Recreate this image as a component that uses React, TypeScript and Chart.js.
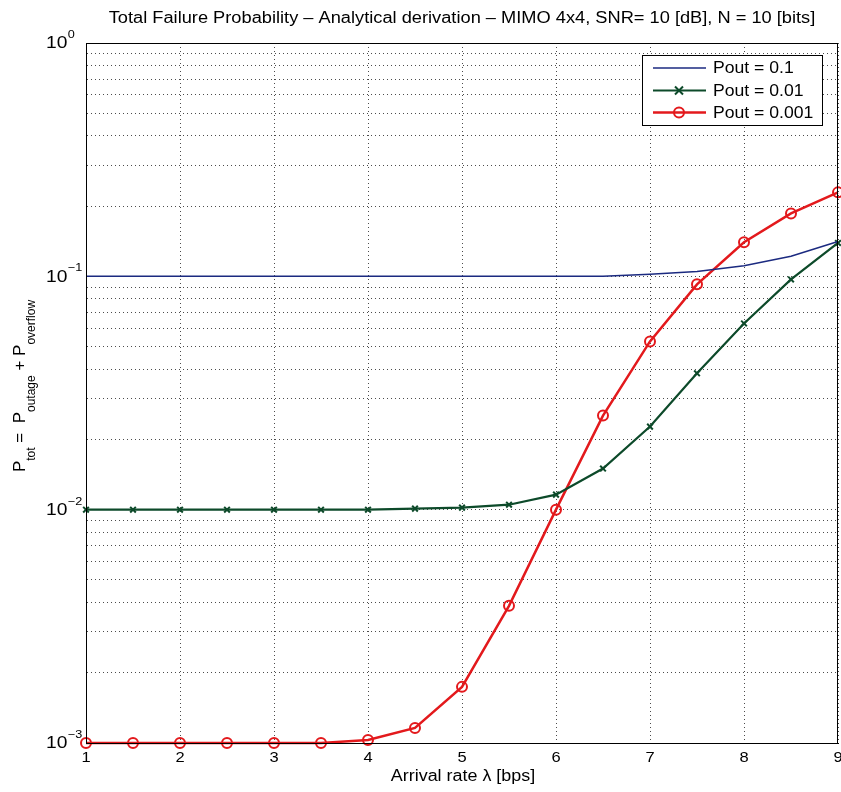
import React, { useEffect, useRef } from "react";
import { Chart, registerables } from "chart.js";

Chart.register(...registerables);

const arrivalRates = [1, 1.5, 2, 2.5, 3, 3.5, 4, 4.5, 5, 5.5, 6, 6.5, 7, 7.5, 8, 8.5, 9];
const pout01 = [0.1, 0.1, 0.1, 0.1, 0.1, 0.1, 0.1, 0.1, 0.1, 0.1, 0.1, 0.1, 0.102, 0.105, 0.111, 0.122, 0.141];
const pout001 = [0.01, 0.01, 0.01, 0.01, 0.01, 0.01, 0.01, 0.0101, 0.0102, 0.0105, 0.0116, 0.015, 0.0227, 0.0384, 0.0628, 0.097, 0.139];
const pout0001 = [0.001, 0.001, 0.001, 0.001, 0.001, 0.001, 0.00103, 0.00116, 0.00174, 0.00387, 0.01, 0.0253, 0.0526, 0.0924, 0.14, 0.186, 0.229];
const seriesNames = ["Pout = 0.1", "Pout = 0.01", "Pout = 0.001"];
const xTicks = [1, 2, 3, 4, 5, 6, 7, 8, 9];
const yExponents = [0, -1, -2, -3];

const titleText = "Total Failure Probability \u2013 Analytical derivation \u2013 MIMO 4x4, SNR= 10 [dB], N = 10 [bits]";
const xTitle = "Arrival rate \u03bb [bps]";

const BLUE = "#1b2a80";
const GREEN = "#0d4a2a";
const RED = "#e3191c";
const FONT = "'Liberation Sans', Arial, sans-serif";

function drawText(ctx: any, text: string, x: number, y: number, size: number, align: string, sx: number) {
  ctx.save();
  ctx.font = `${size}px ${FONT}`;
  ctx.textBaseline = "middle";
  const w = ctx.measureText(text).width * sx;
  let left = x;
  if (align === "center") left = x - w / 2;
  else if (align === "right") left = x - w;
  ctx.translate(left, y);
  ctx.scale(sx, 1);
  ctx.textAlign = "left";
  ctx.fillText(text, 0, 0);
  ctx.restore();
  return w;
}

const decorPlugin = {
  id: "decor",
  afterDraw(chart: any) {
    const { ctx, chartArea } = chart;
    const { left, right, top, bottom } = chartArea;
    const yScale = chart.scales.y;
    const xScale = chart.scales.x;
    ctx.save();
    ctx.strokeStyle = "#000";
    ctx.lineWidth = 1;
    ctx.setLineDash([]);
    ctx.strokeRect(left + 0.5, top + 0.5, right - left - 1, bottom - top);

    ctx.fillStyle = "#000";
    drawText(ctx, titleText, (left + right) / 2, 19, 16, "center", 1.14);
    drawText(ctx, xTitle, (left + right) / 2 + 1, 777, 16, "center", 1.12);

    for (const v of xTicks) {
      drawText(ctx, String(v), xScale.getPixelForValue(v), 758, 15, "center", 1.1);
    }

    for (const e of yExponents) {
      const y = yScale.getPixelForValue(Math.pow(10, e));
      const exp = e === 0 ? "0" : "\u2212" + String(-e);
      const w = drawText(ctx, "10", 46, y + 1, 16, "left", 1.2);
      drawText(ctx, exp, 46 + w + 0.5, y - 8, 11, "left", 1.15);
    }

    ctx.save();
    ctx.translate(25, 0);
    ctx.rotate(-Math.PI / 2);
    const parts: [string, boolean][] = [
      ["P", false], ["tot", true], [" =  P", false], ["outage", true], [" + P", false], ["overflow", true],
    ];
    const big = `17px ${FONT}`;
    const small = `12px ${FONT}`;
    let total = 0;
    for (const [t, sub] of parts) {
      ctx.font = sub ? small : big;
      total += ctx.measureText(t).width;
    }
    let cx = -386 - total / 2;
    ctx.textAlign = "left";
    ctx.textBaseline = "alphabetic";
    for (const [t, sub] of parts) {
      ctx.font = sub ? small : big;
      ctx.fillText(t, cx, sub ? 10 : 0);
      cx += ctx.measureText(t).width;
    }
    ctx.restore();

    const lx = 642, ly = 55, lw = 180, lh = 70;
    ctx.fillStyle = "#fff";
    ctx.fillRect(lx, ly, lw, lh);
    ctx.strokeStyle = "#000";
    ctx.lineWidth = 1;
    ctx.strokeRect(lx + 0.5, ly + 0.5, lw, lh);
    const rows = [68, 90.5, 112.5];
    const colors = [BLUE, GREEN, RED];
    const widths = [1.5, 2.2, 2.5];
    rows.forEach((ry, i) => {
      ctx.strokeStyle = colors[i];
      ctx.lineWidth = widths[i];
      ctx.beginPath();
      ctx.moveTo(653, ry);
      ctx.lineTo(706, ry);
      ctx.stroke();
      if (i === 1) {
        ctx.lineWidth = 2;
        ctx.beginPath();
        ctx.moveTo(675, ry - 4); ctx.lineTo(683, ry + 4);
        ctx.moveTo(675, ry + 4); ctx.lineTo(683, ry - 4);
        ctx.stroke();
      }
      if (i === 2) {
        ctx.lineWidth = 2;
        ctx.beginPath();
        ctx.arc(679, ry, 5, 0, Math.PI * 2);
        ctx.stroke();
      }
      ctx.fillStyle = "#000";
      drawText(ctx, seriesNames[i], 713, ry + 1, 16, "left", 1.1);
    });
    ctx.restore();
  },
};

export default function App() {
  const ref = useRef<HTMLCanvasElement | null>(null);
  useEffect(() => {
    document.body.style.margin = "0";
    const canvas = ref.current!;
    const chart = new Chart(canvas, {
      type: "line",
      data: {
        labels: arrivalRates,
        datasets: [
          {
            label: seriesNames[0],
            data: arrivalRates.map((x, i) => ({ x, y: pout01[i] })),
            borderColor: BLUE,
            borderWidth: 1.5,
            pointRadius: 0,
            fill: false,
            clip: false,
          },
          {
            label: seriesNames[1],
            data: arrivalRates.map((x, i) => ({ x, y: pout001[i] })),
            borderColor: GREEN,
            backgroundColor: GREEN,
            borderWidth: 2.2,
            pointStyle: "crossRot",
            pointRadius: 4,
            pointBorderWidth: 2,
            fill: false,
            clip: false,
          },
          {
            label: seriesNames[2],
            data: arrivalRates.map((x, i) => ({ x, y: pout0001[i] })),
            borderColor: RED,
            backgroundColor: "rgba(255,255,255,0)",
            borderWidth: 2.5,
            pointStyle: "circle",
            pointRadius: 5,
            pointBorderWidth: 2,
            fill: false,
            clip: false,
          },
        ],
      },
      options: {
        animation: false,
        responsive: false,
        maintainAspectRatio: false,
        layout: { autoPadding: false, padding: { top: 43, right: 3, left: 0, bottom: 0 } },
        plugins: { legend: { display: false }, title: { display: false }, tooltip: { enabled: false } },
        scales: {
          x: {
            type: "linear",
            min: 1,
            max: 9,
            afterBuildTicks: (s: any) => { s.ticks = xTicks.map((v) => ({ value: v })); },
            afterFit: (s: any) => { s.height = 49; },
            ticks: { display: false, autoSkip: false, maxRotation: 0 },
            grid: { color: "rgba(0,0,0,0.7)", lineWidth: 1, drawTicks: false },
            border: { display: true, color: "#000", dash: [1, 3] },
          },
          y: {
            type: "logarithmic",
            min: 0.001,
            max: 1,
            afterBuildTicks: (s: any) => {
              const t: any[] = [];
              for (let e = -3; e < 0; e++) {
                for (let m = 1; m <= 9; m++) t.push({ value: m * Math.pow(10, e) });
              }
              t.push({ value: 1 });
              s.ticks = t;
            },
            afterFit: (s: any) => { s.width = 86; },
            ticks: { display: false, autoSkip: false },
            grid: { color: "rgba(0,0,0,0.7)", lineWidth: 1, drawTicks: false },
            border: { display: true, color: "#000", dash: [1, 3] },
          },
        },
      },
      plugins: [decorPlugin],
    } as any);
    return () => chart.destroy();
  }, []);
  return (
    <div style={{ position: "absolute", left: 0, top: 0, width: 841, height: 792, background: "#fff" }}>
      <canvas ref={ref} width={841} height={792} style={{ width: 841, height: 792, display: "block" }} />
    </div>
  );
}
